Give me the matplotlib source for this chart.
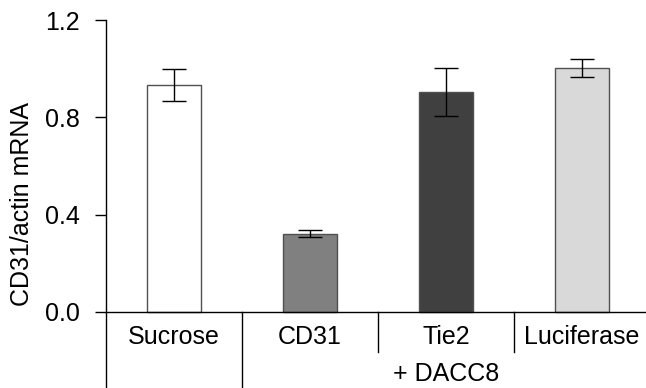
import numpy as np
import matplotlib
matplotlib.use("Agg")
import matplotlib.pyplot as plt

plt.rcParams['font.family'] = ['Liberation Sans', 'DejaVu Sans']

groups = ['Sucrose', 'CD31', 'Tie2', 'Luciferase']
values = [0.933, 0.322, 0.905, 1.002]
errors = [0.066, 0.015, 0.098, 0.038]
colors = ['#ffffff', '#808080', '#404040', '#d9d9d9']
yticks = [0.0, 0.4, 0.8, 1.2]
group_label = '+ DACC8'

W, H = 646, 388
fig = plt.figure(figsize=(W / 100, H / 100), dpi=100)
# axes runs a little past the right edge, like the original
ax = fig.add_axes([106 / W, 0, 544 / W, 368 / H])

x = np.arange(len(groups)) + 0.5
ax.bar(x, values, width=0.4, color=colors, edgecolor='#505050', linewidth=1.0)
ax.errorbar(x, values, yerr=errors, fmt='none', ecolor='black', elinewidth=1.0,
            capsize=8.5, capthick=1.0)

ybot = -76 / 243.33
ax.set_xlim(0, 4)
ax.set_ylim(ybot, 1.2)
for s in ['top', 'right', 'bottom']:
    ax.spines[s].set_visible(False)
ax.spines['left'].set_bounds(ybot, 1.2)
ax.spines['left'].set_linewidth(1.0)
ax.axhline(0, color='black', linewidth=1.0, clip_on=False)

ax.set_xticks([])
ax.set_yticks(yticks)
ax.set_yticklabels(['%.1f' % t for t in yticks])
ax.tick_params(axis='y', direction='out', length=8, width=1.0, pad=11, labelsize=18)
ax.set_ylabel('CD31/actin mRNA', fontsize=18, labelpad=8)

# category separators below the axis
ax.plot([1, 1], [0, ybot], color='black', linewidth=1.0, clip_on=False)
for sx in [2, 3]:
    ax.plot([sx, sx], [0, -40 / 243.33], color='black', linewidth=1.0, clip_on=False)

for xi, g in zip(x, groups):
    ax.text(xi, -25 / 243.33, g, ha='center', va='center', fontsize=18)
ax.text(2.5, -62 / 243.33, group_label, ha='center', va='center', fontsize=18)

fig.savefig('out.png', dpi=100)
